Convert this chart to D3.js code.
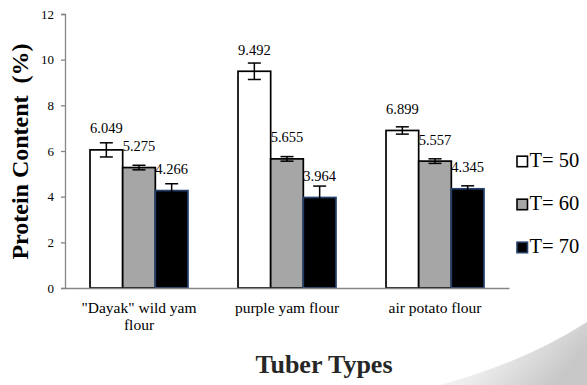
<!DOCTYPE html>
<html><head><meta charset="utf-8">
<script src="https://cdn.jsdelivr.net/npm/d3@7"></script>
<style>body{margin:0;background:#fff} svg{display:block} svg text{font-family:"Liberation Serif","Times New Roman",serif}</style>
</head><body><svg id="c" width="587" height="385"></svg>
<script>
const categories = ['"Dayak" wild yam flour', 'purple yam flour', 'air potato flour'];
const seriesNames = ['T= 50', 'T= 60', 'T= 70'];
const t50 = [6.049, 9.492, 6.899];
const t60 = [5.275, 5.655, 5.557];
const t70 = [4.266, 3.964, 4.345];
const err50 = [0.31, 0.36, 0.16];
const err60 = [0.10, 0.10, 0.10];
const err70 = [0.30, 0.50, 0.13];
const yTicks = [0, 2, 4, 6, 8, 10, 12];
const fills = ['#ffffff', '#a6a6a6', '#000000'];
const strokes = ['#000000', '#000000', '#24406b'];

const seriesVals = [t50, t60, t70];
const seriesErr = [err50, err60, err70];
const data = categories.map((c, i) => ({
  cat: c,
  vals: seriesNames.map((s, j) => ({ s, j, v: seriesVals[j][i], e: seriesErr[j][i] }))
}));

const svg = d3.select('#c');
const L = 65, R = 509, T = 14, B = 288;

const y = d3.scaleLinear().domain([0, 12]).range([B, T]);
const x0 = d3.scaleBand().domain(categories).range([L, R]).paddingInner(0.338).paddingOuter(0.169);
const x1 = d3.scaleBand().domain(seriesNames).range([0, x0.bandwidth()]).padding(0);

// shadow decoration bottom-right
const defs = svg.append('defs');
const g1 = defs.append('linearGradient').attr('id', 'sh').attr('x1', '0').attr('y1', '0').attr('x2', '1').attr('y2', '0.4');
g1.append('stop').attr('offset', '0').attr('stop-color', '#ffffff');
g1.append('stop').attr('offset', '0.5').attr('stop-color', '#ececec');
g1.append('stop').attr('offset', '1').attr('stop-color', '#c8c8c8');
svg.append('path').attr('d', 'M440,385 Q525,362 587,322 L587,385 Z').attr('fill', 'url(#sh)');

// y axis
const yAxis = d3.axisLeft(y).tickValues(yTicks).tickSize(4).tickPadding(7).tickFormat(d3.format('d'));
const ya = svg.append('g').attr('transform', `translate(${L},0)`).call(yAxis);
ya.select('.domain').attr('stroke', '#868686').attr('stroke-width', 1.3);
ya.selectAll('.tick line').attr('stroke', '#868686').attr('stroke-width', 1.3);
ya.selectAll('.tick text').attr('font-size', 13).attr('fill', '#000');

// bars
const groups = svg.append('g').selectAll('g').data(data).join('g')
  .attr('transform', d => `translate(${x0(d.cat)},0)`);
groups.selectAll('rect').data(d => d.vals).join('rect')
  .attr('x', d => x1(d.s))
  .attr('y', d => y(d.v))
  .attr('width', x1.bandwidth())
  .attr('height', d => B - y(d.v))
  .attr('fill', d => fills[d.j])
  .attr('stroke', d => strokes[d.j])
  .attr('stroke-width', 1.7);

// error bars
const eb = groups.selectAll('g.eb').data(d => d.vals).join('g').attr('class', 'eb')
  .attr('transform', d => `translate(${x1(d.s) + x1.bandwidth() / 2},0)`);
eb.append('line').attr('x1', 0).attr('x2', 0)
  .attr('y1', d => y(d.v + d.e)).attr('y2', d => y(d.v - d.e))
  .attr('stroke', '#000').attr('stroke-width', 1.5);
eb.append('line').attr('x1', -6.5).attr('x2', 6.5)
  .attr('y1', d => y(d.v + d.e)).attr('y2', d => y(d.v + d.e))
  .attr('stroke', '#000').attr('stroke-width', 1.5);
eb.append('line').attr('x1', -6.5).attr('x2', 6.5)
  .attr('y1', d => y(d.v - d.e)).attr('y2', d => y(d.v - d.e))
  .attr('stroke', '#000').attr('stroke-width', 1.5);

// value labels
groups.selectAll('text.val').data(d => d.vals).join('text').attr('class', 'val')
  .attr('x', d => x1(d.s) + x1.bandwidth() / 2)
  .attr('y', d => y(d.v) - 16.5)
  .attr('text-anchor', 'middle')
  .attr('font-size', 14.5).attr('fill', '#000')
  .text(d => d3.format('.3f')(d.v));

// x axis
const xa = svg.append('g').attr('transform', `translate(0,${B})`)
  .call(d3.axisBottom(x0).tickSize(0).tickPadding(0));
xa.select('.domain').attr('stroke', '#868686').attr('stroke-width', 1.5);
xa.selectAll('.tick text').attr('font-size', 15.5).attr('fill', '#000')
  .attr('dy', 0).attr('y', 25)
  .each(function (d) {
    const t = d3.select(this);
    const words = d.split(' ');
    t.text(null);
    let line = [];
    let tspan = t.append('tspan').attr('x', 0).attr('y', 25);
    let ln = 0;
    words.forEach(w => {
      line.push(w);
      tspan.text(line.join(' '));
      if (tspan.node().getComputedTextLength() > 128 && line.length > 1) {
        line.pop();
        tspan.text(line.join(' '));
        line = [w];
        ln++;
        tspan = t.append('tspan').attr('x', 0).attr('y', 25 + ln * 17).text(w);
      }
    });
  });

// axis titles
svg.append('text')
  .attr('transform', 'translate(28,151.5) rotate(-90)')
  .attr('text-anchor', 'middle')
  .attr('font-size', 24).attr('font-weight', 'bold').attr('fill', '#000')
  .text('Protein Content\u00a0 (%)');
svg.append('text')
  .attr('x', 324).attr('y', 373)
  .attr('text-anchor', 'middle')
  .attr('font-size', 26).attr('font-weight', 'bold').attr('fill', '#262626')
  .text('Tuber Types');

// legend
const leg = svg.append('g').selectAll('g').data(seriesNames).join('g')
  .attr('transform', (d, i) => `translate(517,${166.7 + i * 43})`);
leg.append('rect').attr('x', 0).attr('y', -10.5).attr('width', 10.5).attr('height', 10.5)
  .attr('fill', (d, i) => fills[i]).attr('stroke', (d, i) => strokes[i]).attr('stroke-width', 1.6);
leg.append('text').attr('x', 12.5).attr('y', 0)
  .attr('font-size', 20.5).attr('fill', '#000')
  .text(d => d);
</script>
</body></html>
